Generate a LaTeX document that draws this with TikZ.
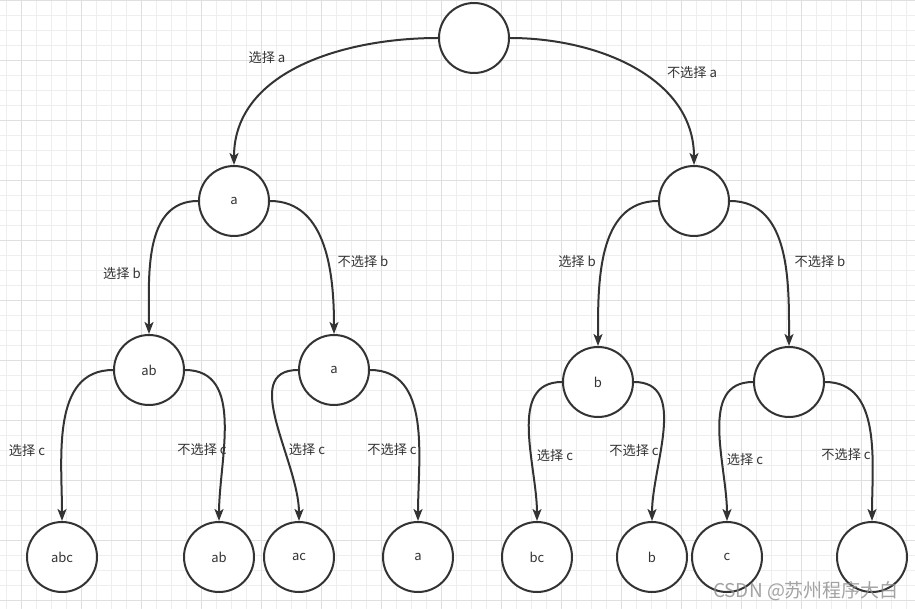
\documentclass[tikz,border=0pt]{standalone}
\usepackage{fontspec}
\setmainfont{Noto Sans CJK SC}
\usetikzlibrary{arrows.meta}
\definecolor{ink}{HTML}{333333}
\definecolor{gmin}{HTML}{EEEEEE}
\definecolor{gmaj}{HTML}{DFDFDF}
\begin{document}
\begin{tikzpicture}[x=1pt,y=-1pt,
  state/.style={circle,draw=ink,line width=2pt,fill=white,minimum size=70pt,inner sep=0pt,font=\fontsize{13}{15}\selectfont,text=ink},
  edge/.style={draw=ink,line width=2pt,-{Stealth[length=12pt,width=9pt,inset=3pt]}},
  lab/.style={font=\fontsize{13.2}{15}\selectfont,text=ink,inner sep=0pt},
  gridminor/.style={draw=gmin,line width=0.8pt},
  gridmajor/.style={draw=gmaj,line width=0.9pt}]
\useasboundingbox (0,0) rectangle (915,609);
\fill[white] (0,0) rectangle (915,609);
% grid
\foreach \i in {0,...,61} \draw[gridminor] (6.7+15*\i,0) -- (6.7+15*\i,609);
\foreach \i in {0,...,40} \draw[gridminor] (0,15*\i) -- (915,15*\i);
\foreach \i in {0,...,15} \draw[gridmajor] (21.7+60*\i,0) -- (21.7+60*\i,609);
\foreach \i in {0,...,10} \draw[gridmajor] (0,60*\i) -- (915,60*\i);
% nodes
\node[state] (r)   at (474,38) {};
\node[state] (a1)  at (234,201) {a};
\node[state] (r1)  at (694,201) {};
\node[state] (ab)  at (149,370) {ab};
\node[state] (a2)  at (334,370) {a};
\node[state] (b)   at (598,382) {b};
\node[state] (r2)  at (789,382) {};
\node[state] (abc) at (62,557) {abc};
\node[state] (abl) at (219,557) {ab};
\node[state] (ac)  at (299,557) {ac};
\node[state] (al)  at (418,557) {a};
\node[state] (bc)  at (537,557) {bc};
\node[state] (bl)  at (652,557) {b};
\node[state] (c)   at (727,557) {c};
\node[state] (e)   at (872,557) {};
% edges
\draw[edge] (r.west)  to[out=180,in=90] (a1.north);
\draw[edge] (r.east)  to[out=0,in=90]   (r1.north);
\draw[edge] (a1.west) to[out=180,in=90] (ab.north);
\draw[edge] (a1.east) to[out=0,in=90]   (a2.north);
\draw[edge] (r1.west) to[out=180,in=90] (b.north);
\draw[edge] (r1.east) to[out=0,in=90]   (r2.north);
\draw[edge] (ab.west) to[out=180,in=90] (abc.north);
\draw[edge] (ab.east) to[out=0,in=90]   (abl.north);
\draw[edge] (a2.west) to[out=180,in=90] (ac.north);
\draw[edge] (a2.east) to[out=0,in=90]   (al.north);
\draw[edge] (b.west)  to[out=180,in=90] (bc.north);
\draw[edge] (b.east)  to[out=0,in=90]   (bl.north);
\draw[edge] (r2.west) to[out=180,in=90] (c.north);
\draw[edge] (r2.east) to[out=0,in=90]   (e.north);
% labels
\node[lab] (l1)  at (267,58)  {选择 a};
\node[lab] (l2)  at (692,73)  {不选择 a};
\node[lab] (l3)  at (122,274) {选择 b};
\node[lab] (l4)  at (363,262) {不选择 b};
\node[lab] (l5)  at (577,262) {选择 b};
\node[lab] (l6)  at (820,262) {不选择 b};
\node[lab] (l7)  at (27,451)  {选择 c};
\node[lab] (l8)  at (202,450) {不选择 c};
\node[lab] (l9)  at (307,450) {选择 c};
\node[lab] (l10) at (392,450) {不选择 c};
\node[lab] (l11) at (555,456) {选择 c};
\node[lab] (l12) at (634,451) {不选择 c};
\node[lab] (l13) at (745,460) {选择 c};
\node[lab] (l14) at (846,455) {不选择 c};
% watermark
\node[font=\fontsize{19}{22}\selectfont,text=black!45,opacity=0.8,inner sep=0pt] (wm) at (806,591) {CSDN @苏州程序大白};
\end{tikzpicture}
\end{document}
